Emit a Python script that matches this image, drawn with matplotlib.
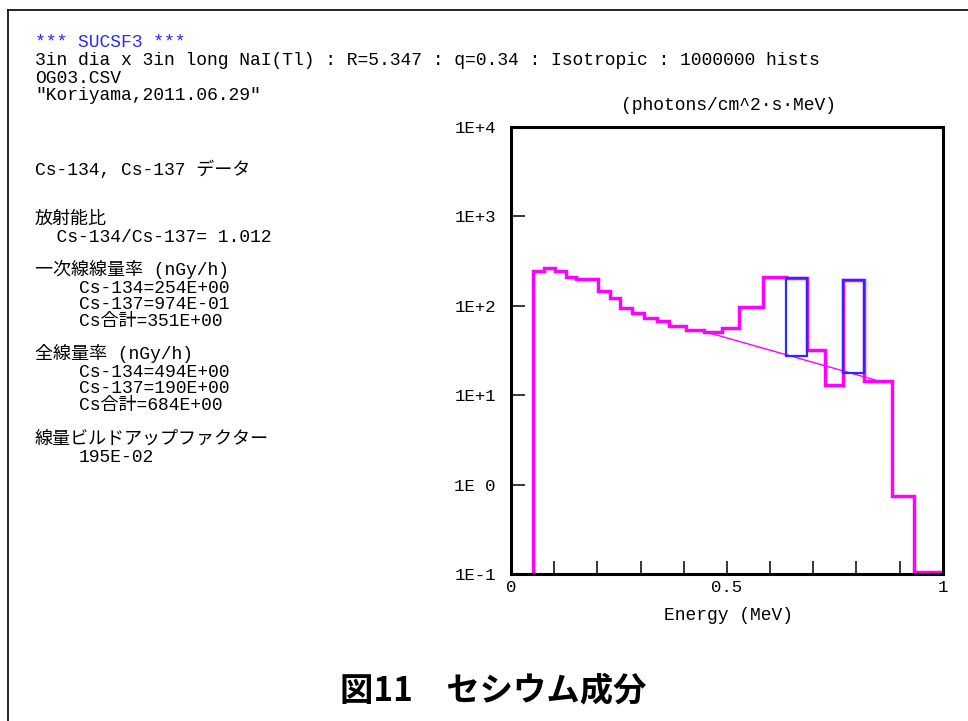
import numpy as np
import matplotlib
matplotlib.use("Agg")
import matplotlib.pyplot as plt
from matplotlib.lines import Line2D
from matplotlib.patches import Rectangle

plt.rcParams['font.family'] = ['Liberation Mono', 'Noto Sans CJK JP', 'DejaVu Sans']

# spectrum (photons/cm^2/s/MeV)
edges = [0.05, 0.076, 0.102, 0.127, 0.151, 0.175, 0.201, 0.229, 0.253, 0.281,
         0.309, 0.338, 0.367, 0.405, 0.446, 0.488, 0.529, 0.583, 0.637, 0.685,
         0.727, 0.768, 0.818, 0.883, 0.934, 1.0]
flux = [245, 263, 247, 210, 201, 198, 147, 124, 94, 84,
        74, 68, 60, 54, 51.5, 56, 97.5, 210, 205, 32.4,
        13.1, 193, 14.5, 0.75, 0.105]

# continuum line under the photopeaks
cont_e = [0.442, 0.843]
cont_f = [52.7, 14.9]

# photopeak boxes
peak_lo = [0.637, 0.768]
peak_hi = [0.685, 0.818]
peak_bottom = [27.7, 17.6]
peak_top = [203, 193]

ytick_vals = [0.1, 1, 10, 100, 1000, 10000]
ytick_labels = ['1E-1', '1E 0', '1E+1', '1E+2', '1E+3', '1E+4']

header = ['3in dia x 3in long NaI(Tl) : R=5.347 : q=0.34 : Isotropic : 1000000 hists',
          'OG03.CSV',
          '\u2033Koriyama,2011.06.29\u2033']

# left column: (x, baseline y, text)
notes = [(35, 175, 'Cs-134, Cs-137 データ'),
         (35, 224, '放射能比'),
         (35, 242, '  Cs-134/Cs-137= 1.012'),
         (35, 275, '一次線線量率 (nGy/h)'),
         (79, 293, 'Cs-134=254E+00'),
         (79, 309, 'Cs-137=974E-01'),
         (79, 326, 'Cs合計=351E+00'),
         (35, 359, '全線量率 (nGy/h)'),
         (79, 377, 'Cs-134=494E+00'),
         (79, 393, 'Cs-137=190E+00'),
         (79, 410, 'Cs合計=684E+00'),
         (35, 444, '線量ビルドアップファクター'),
         (79, 462, '195E-02')]

W, H = 968, 721
fig = plt.figure(figsize=(W / 100, H / 100), dpi=100)


def txt(x, y, s, **kw):
    kw.setdefault('fontsize', 13)
    kw.setdefault('va', 'baseline')
    fig.text(x / W, 1 - y / H, s, **kw)


# outer frame (only top and left edges fall inside the picture)
fig.add_artist(Line2D([8 / W, 1], [1 - 10 / H, 1 - 10 / H], color='black', lw=1.2))
fig.add_artist(Line2D([8 / W, 8 / W], [0, 1 - 10 / H], color='black', lw=1.2))

txt(35, 47, '*** SUCSF3 ***', color='#2a2aff')
txt(35, 65, header[0])
txt(35, 83, header[1])
txt(35, 100, header[2])

for x, y, s in notes:
    txt(x, y, s)

txt(728, 110, '(photons/cm^2\u00b7s\u00b7MeV)', ha='center')
txt(728, 620, 'Energy (MeV)', ha='center')

txt(493, 700, '図11\u3000セシウム成分', ha='center', fontsize=24,
    fontweight='bold', family=['Noto Sans CJK JP'])

ax = fig.add_axes([511 / W, 1 - 574.3 / H, (942.7 - 511) / W, (574.3 - 127) / H])
ax.stairs(flux, edges, baseline=0.1, color='#ff00ff', lw=2.5, zorder=2)
ax.plot(cont_e, cont_f, color='#ff00ff', lw=1, zorder=3)
for lo, hi, b, t in zip(peak_lo, peak_hi, peak_bottom, peak_top):
    ax.add_patch(Rectangle((lo, b), hi - lo, t - b, fill=False,
                           edgecolor='#2a2aff', lw=1.6, zorder=4))

ax.set_yscale('log')
ax.set_xlim(0, 1)
ax.set_ylim(0.1, 10000)
ax.set_yticks(ytick_vals)
ax.set_yticklabels(ytick_labels)
ax.minorticks_off()
ax.set_xticks(np.round(np.arange(0, 1.01, 0.1), 1))
ax.set_xticklabels(['0', '', '', '', '', '0.5', '', '', '', '', '1'])
ax.tick_params(axis='y', direction='in', length=10, width=1.1, pad=11, labelsize=12.5)
ax.tick_params(axis='x', direction='in', length=9.5, width=1.1, pad=4, labelsize=12.5)
for sp in ax.spines.values():
    sp.set_linewidth(2.2)

fig.savefig('out.png', dpi=100)
